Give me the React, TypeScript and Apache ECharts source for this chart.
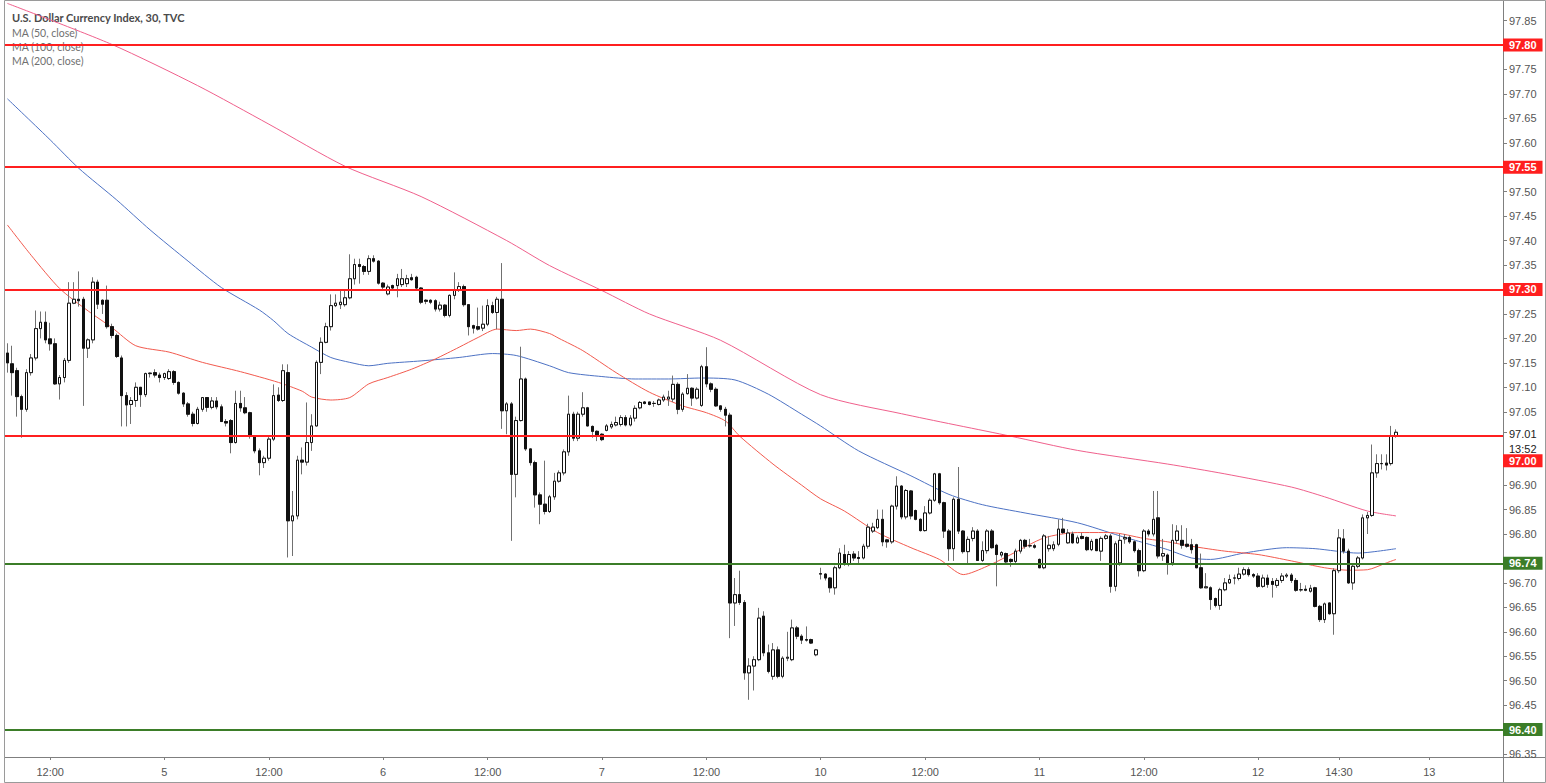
import React, { useEffect, useRef } from "react";
import * as echarts from "echarts";

// [open, close, low, high] per 30-minute bar
const candles: [number, number, number, number][] = [
  [97.17, 97.15, 97.13, 97.19], [97.148, 97.13, 97.083, 97.185], [97.134, 97.081, 97.04, 97.14], [97.081, 97.055, 96.997, 97.085],
  [97.055, 97.13, 97.05, 97.137], [97.13, 97.16, 97.124, 97.168], [97.16, 97.22, 97.155, 97.257], [97.22, 97.233, 97.2, 97.255],
  [97.233, 97.197, 97.19, 97.255], [97.199, 97.189, 97.175, 97.232], [97.189, 97.107, 97.105, 97.2], [97.107, 97.12, 97.075, 97.125],
  [97.12, 97.155, 97.11, 97.16], [97.155, 97.272, 97.15, 97.315], [97.272, 97.28, 97.27, 97.315], [97.28, 97.277, 97.265, 97.337],
  [97.28, 97.18, 97.062, 97.285], [97.18, 97.197, 97.16, 97.2], [97.197, 97.315, 97.19, 97.325], [97.315, 97.27, 97.26, 97.32],
  [97.278, 97.27, 97.25, 97.28], [97.278, 97.224, 97.22, 97.308], [97.224, 97.206, 97.2, 97.23], [97.206, 97.163, 97.16, 97.21],
  [97.16, 97.083, 97.02, 97.165], [97.083, 97.064, 97.02, 97.09], [97.065, 97.073, 97.025, 97.08], [97.073, 97.1, 97.06, 97.11],
  [97.1, 97.085, 97.06, 97.1], [97.085, 97.128, 97.08, 97.13], [97.128, 97.129, 97.12, 97.13], [97.13, 97.125, 97.12, 97.137],
  [97.125, 97.12, 97.11, 97.13], [97.12, 97.128, 97.115, 97.13], [97.118, 97.132, 97.115, 97.137], [97.132, 97.11, 97.105, 97.135],
  [97.11, 97.088, 97.085, 97.112], [97.088, 97.066, 97.06, 97.09], [97.066, 97.045, 97.04, 97.07], [97.045, 97.026, 97.02, 97.05],
  [97.026, 97.055, 97.024, 97.06], [97.055, 97.079, 97.05, 97.08], [97.079, 97.059, 97.05, 97.08], [97.059, 97.072, 97.055, 97.08],
  [97.072, 97.06, 97.055, 97.08], [97.06, 97.03, 97.03, 97.065], [97.03, 97.027, 97.02, 97.035], [97.032, 96.987, 96.965, 97.035],
  [96.987, 97.067, 96.985, 97.093], [97.067, 97.058, 97.05, 97.093], [97.058, 97.048, 97.045, 97.08], [97.048, 97.0, 96.995, 97.05],
  [97.0, 96.97, 96.965, 97.0], [96.97, 96.946, 96.92, 96.975], [96.946, 96.955, 96.935, 96.96], [96.955, 96.994, 96.95, 97.0],
  [96.994, 97.083, 96.99, 97.106], [97.084, 97.073, 97.07, 97.1], [97.073, 97.134, 97.07, 97.147], [97.13, 96.827, 96.752, 97.147],
  [96.827, 96.837, 96.755, 96.888], [96.837, 96.951, 96.83, 96.96], [96.951, 96.947, 96.922, 96.977], [96.947, 96.987, 96.94, 97.069],
  [96.987, 97.021, 96.97, 97.045], [97.021, 97.151, 97.02, 97.155], [97.151, 97.192, 97.127, 97.202], [97.192, 97.224, 97.19, 97.232],
  [97.224, 97.267, 97.216, 97.29], [97.267, 97.272, 97.264, 97.29], [97.269, 97.274, 97.26, 97.297], [97.269, 97.283, 97.265, 97.297],
  [97.283, 97.322, 97.28, 97.372], [97.322, 97.351, 97.31, 97.363], [97.351, 97.347, 97.312, 97.363], [97.347, 97.337, 97.33, 97.35],
  [97.337, 97.363, 97.33, 97.37], [97.363, 97.358, 97.355, 97.37], [97.358, 97.313, 97.31, 97.36], [97.313, 97.305, 97.3, 97.315],
  [97.291, 97.305, 97.288, 97.31], [97.308, 97.303, 97.3, 97.31], [97.308, 97.322, 97.284, 97.332], [97.31, 97.322, 97.305, 97.342],
  [97.312, 97.322, 97.305, 97.33], [97.324, 97.32, 97.318, 97.332], [97.325, 97.303, 97.3, 97.328], [97.303, 97.274, 97.27, 97.305],
  [97.278, 97.276, 97.27, 97.28], [97.278, 97.274, 97.27, 97.28], [97.277, 97.26, 97.255, 97.28], [97.26, 97.268, 97.255, 97.275],
  [97.268, 97.247, 97.243, 97.27], [97.247, 97.288, 97.243, 97.29], [97.288, 97.298, 97.28, 97.335], [97.298, 97.306, 97.295, 97.315],
  [97.306, 97.269, 97.265, 97.31], [97.269, 97.224, 97.206, 97.27], [97.226, 97.221, 97.21, 97.228], [97.224, 97.219, 97.216, 97.263],
  [97.221, 97.229, 97.215, 97.267], [97.229, 97.267, 97.225, 97.28], [97.267, 97.253, 97.25, 97.275], [97.253, 97.28, 97.219, 97.285],
  [97.28, 97.052, 97.015, 97.354], [97.052, 97.066, 97.004, 97.07], [97.066, 96.922, 96.786, 97.07], [96.922, 97.032, 96.875, 97.04],
  [97.032, 97.117, 97.03, 97.183], [97.117, 96.974, 96.97, 97.12], [96.974, 96.946, 96.94, 96.975], [96.946, 96.88, 96.854, 96.95],
  [96.88, 96.861, 96.82, 96.885], [96.861, 96.846, 96.84, 96.95], [96.846, 96.876, 96.843, 96.88], [96.876, 96.908, 96.87, 96.925],
  [96.908, 96.925, 96.905, 96.93], [96.925, 96.968, 96.92, 96.973], [96.968, 97.045, 96.96, 97.083], [97.045, 96.996, 96.99, 97.05],
  [96.996, 97.045, 96.99, 97.05], [97.045, 97.058, 97.04, 97.09], [97.058, 97.021, 97.02, 97.06], [97.02, 97.01, 96.997, 97.022],
  [97.01, 97.0, 96.99, 97.012], [97.004, 96.993, 96.99, 97.006], [97.012, 97.021, 97.01, 97.025], [97.019, 97.024, 97.015, 97.03],
  [97.023, 97.028, 97.02, 97.04], [97.024, 97.038, 97.02, 97.043], [97.038, 97.023, 97.02, 97.043], [97.023, 97.037, 97.02, 97.043],
  [97.037, 97.057, 97.03, 97.063], [97.058, 97.069, 97.055, 97.072], [97.07, 97.067, 97.065, 97.072], [97.07, 97.065, 97.063, 97.07],
  [97.067, 97.067, 97.06, 97.072], [97.065, 97.074, 97.063, 97.077], [97.074, 97.08, 97.07, 97.085], [97.076, 97.08, 97.062, 97.093],
  [97.076, 97.106, 97.07, 97.124], [97.106, 97.055, 97.045, 97.11], [97.055, 97.086, 97.05, 97.09], [97.087, 97.098, 97.085, 97.127],
  [97.098, 97.078, 97.062, 97.1], [97.078, 97.096, 97.075, 97.1], [97.063, 97.142, 97.06, 97.146], [97.142, 97.107, 97.1, 97.182],
  [97.107, 97.096, 97.09, 97.11], [97.096, 97.062, 97.06, 97.1], [97.062, 97.055, 97.05, 97.063], [97.055, 97.043, 97.02, 97.06],
  [97.043, 96.659, 96.587, 97.048], [96.659, 96.676, 96.612, 96.71], [96.676, 96.66, 96.655, 96.725], [96.66, 96.516, 96.502, 96.665],
  [96.516, 96.53, 96.461, 96.546], [96.53, 96.543, 96.48, 96.55], [96.543, 96.628, 96.54, 96.649], [96.632, 96.557, 96.55, 96.642],
  [96.557, 96.519, 96.515, 96.574], [96.509, 96.563, 96.502, 96.577], [96.563, 96.509, 96.505, 96.57], [96.509, 96.546, 96.505, 96.55],
  [96.546, 96.548, 96.54, 96.6], [96.543, 96.608, 96.54, 96.625], [96.608, 96.591, 96.585, 96.612], [96.591, 96.583, 96.575, 96.595],
  [96.584, 96.583, 96.58, 96.611], [96.584, 96.577, 96.575, 96.586], [96.553, 96.563, 96.55, 96.565], [96.718, 96.719, 96.707, 96.731],
  [96.718, 96.71, 96.705, 96.72], [96.71, 96.69, 96.68, 96.712], [96.69, 96.731, 96.676, 96.735], [96.731, 96.761, 96.728, 96.771],
  [96.758, 96.739, 96.735, 96.778], [96.739, 96.758, 96.734, 96.765], [96.759, 96.751, 96.745, 96.765], [96.752, 96.75, 96.738, 96.765],
  [96.751, 96.775, 96.748, 96.78], [96.775, 96.814, 96.77, 96.821], [96.806, 96.814, 96.802, 96.823], [96.813, 96.83, 96.81, 96.85],
  [96.83, 96.784, 96.775, 96.85], [96.788, 96.784, 96.772, 96.79], [96.784, 96.857, 96.78, 96.86], [96.857, 96.898, 96.85, 96.918],
  [96.898, 96.835, 96.83, 96.9], [96.835, 96.889, 96.83, 96.892], [96.888, 96.837, 96.83, 96.89], [96.848, 96.83, 96.828, 96.85],
  [96.83, 96.807, 96.805, 96.832], [96.807, 96.843, 96.805, 96.857], [96.843, 96.869, 96.84, 96.873], [96.869, 96.923, 96.866, 96.925],
  [96.923, 96.864, 96.86, 96.925], [96.864, 96.806, 96.792, 96.866], [96.806, 96.77, 96.745, 96.81], [96.77, 96.871, 96.745, 96.875],
  [96.871, 96.806, 96.8, 96.937], [96.806, 96.764, 96.76, 96.808], [96.764, 96.789, 96.74, 96.795], [96.791, 96.806, 96.785, 96.814],
  [96.806, 96.746, 96.745, 96.81], [96.746, 96.766, 96.743, 96.785], [96.766, 96.806, 96.76, 96.81], [96.806, 96.772, 96.77, 96.81],
  [96.777, 96.758, 96.693, 96.78], [96.757, 96.762, 96.752, 96.765], [96.76, 96.743, 96.74, 96.762], [96.748, 96.744, 96.733, 96.75],
  [96.744, 96.765, 96.74, 96.77], [96.765, 96.787, 96.76, 96.79], [96.787, 96.775, 96.77, 96.79], [96.776, 96.776, 96.772, 96.79],
  [96.776, 96.773, 96.77, 96.78], [96.748, 96.731, 96.73, 96.75], [96.731, 96.796, 96.728, 96.8], [96.77, 96.777, 96.764, 96.796],
  [96.77, 96.778, 96.765, 96.785], [96.779, 96.81, 96.775, 96.83], [96.81, 96.803, 96.8, 96.833], [96.782, 96.802, 96.78, 96.81],
  [96.8, 96.782, 96.78, 96.805], [96.782, 96.792, 96.78, 96.797], [96.795, 96.791, 96.789, 96.802], [96.793, 96.768, 96.765, 96.795],
  [96.768, 96.785, 96.765, 96.79], [96.789, 96.766, 96.765, 96.79], [96.765, 96.791, 96.745, 96.795], [96.791, 96.796, 96.788, 96.8],
  [96.796, 96.693, 96.68, 96.8], [96.693, 96.78, 96.683, 96.785], [96.741, 96.787, 96.735, 96.8], [96.79, 96.793, 96.78, 96.8],
  [96.793, 96.784, 96.78, 96.797], [96.784, 96.766, 96.762, 96.787], [96.766, 96.725, 96.713, 96.77], [96.725, 96.806, 96.722, 96.81],
  [96.806, 96.8, 96.795, 96.81], [96.8, 96.83, 96.795, 96.888], [96.833, 96.755, 96.75, 96.888], [96.755, 96.76, 96.745, 96.79],
  [96.757, 96.741, 96.717, 96.76], [96.741, 96.787, 96.735, 96.82], [96.787, 96.806, 96.78, 96.818], [96.787, 96.777, 96.77, 96.818],
  [96.779, 96.775, 96.772, 96.812], [96.778, 96.768, 96.76, 96.79], [96.778, 96.731, 96.73, 96.78], [96.731, 96.69, 96.688, 96.76],
  [96.69, 96.692, 96.69, 96.72], [96.69, 96.666, 96.645, 96.693], [96.668, 96.654, 96.65, 96.67], [96.654, 96.686, 96.645, 96.69],
  [96.686, 96.7, 96.683, 96.71], [96.7, 96.707, 96.698, 96.717], [96.71, 96.71, 96.697, 96.717], [96.709, 96.718, 96.705, 96.731],
  [96.718, 96.727, 96.715, 96.732], [96.727, 96.717, 96.713, 96.732], [96.717, 96.714, 96.71, 96.72], [96.714, 96.693, 96.69, 96.72],
  [96.693, 96.71, 96.69, 96.717], [96.71, 96.697, 96.69, 96.717], [96.703, 96.697, 96.67, 96.71], [96.695, 96.705, 96.69, 96.71],
  [96.705, 96.714, 96.7, 96.72], [96.714, 96.716, 96.71, 96.72], [96.716, 96.705, 96.7, 96.72], [96.705, 96.685, 96.682, 96.71],
  [96.686, 96.686, 96.682, 96.7], [96.687, 96.685, 96.683, 96.695], [96.683, 96.689, 96.68, 96.696], [96.69, 96.652, 96.65, 96.692],
  [96.652, 96.625, 96.62, 96.655], [96.625, 96.657, 96.618, 96.66], [96.659, 96.637, 96.635, 96.66], [96.637, 96.725, 96.594, 96.73],
  [96.725, 96.792, 96.72, 96.81], [96.79, 96.765, 96.76, 96.81], [96.765, 96.7, 96.698, 96.77], [96.7, 96.734, 96.686, 96.74],
  [96.734, 96.751, 96.73, 96.755], [96.751, 96.833, 96.748, 96.84], [96.833, 96.838, 96.8, 96.845], [96.838, 96.925, 96.835, 96.983],
  [96.925, 96.944, 96.915, 96.963], [96.944, 96.944, 96.932, 96.963], [96.945, 96.941, 96.93, 96.963], [96.944, 97.0, 96.94, 97.021],
  [97.0, 97.008, 96.997, 97.014],
];

// empty bar slots to the right of the last candle
const futureBars = 22;

// moving averages: [bar index, value]
const ma50: [number, number][] = [
  [0, 97.432], [5, 97.37], [11, 97.302], [17, 97.256], [22, 97.222], [27, 97.185], [34, 97.172], [41, 97.151], [49, 97.132],
  [57, 97.11], [62, 97.092], [64, 97.08], [68, 97.074], [72, 97.079], [76, 97.107], [80, 97.12], [85, 97.137],
  [90, 97.158], [95, 97.182], [99, 97.202], [103, 97.219], [107, 97.216], [110, 97.219], [114, 97.21], [116, 97.2], [121, 97.175],
  [128, 97.13], [135, 97.09], [142, 97.062], [147, 97.048], [151, 97.031], [154, 97.0], [161, 96.943], [167, 96.9], [171, 96.872],
  [176, 96.847], [183, 96.803], [190, 96.772], [196, 96.748], [201, 96.717], [206, 96.734], [211, 96.758], [218, 96.792],
  [225, 96.803], [232, 96.803], [239, 96.791], [244, 96.784], [249, 96.775], [256, 96.765], [263, 96.758], [270, 96.745],
  [277, 96.731], [282, 96.726], [286, 96.727], [290, 96.741], [292, 96.748],
];
const ma100: [number, number][] = [
  [0, 97.69], [9, 97.606], [15, 97.548], [23, 97.483], [30, 97.422], [38, 97.358], [45, 97.304], [53, 97.258], [56, 97.236],
  [59, 97.21], [64, 97.182], [68, 97.161], [72, 97.151], [76, 97.144], [80, 97.149], [87, 97.154], [95, 97.161], [102, 97.169],
  [107, 97.165], [114, 97.144], [118, 97.13], [125, 97.122], [132, 97.117], [139, 97.117], [146, 97.119], [153, 97.115],
  [160, 97.086], [167, 97.045], [171, 97.021], [179, 96.97], [190, 96.919], [198, 96.881], [205, 96.86], [214, 96.843],
  [225, 96.823], [234, 96.796], [239, 96.782], [244, 96.768], [249, 96.751], [253, 96.748], [260, 96.761], [269, 96.772],
  [275, 96.77], [284, 96.761], [292, 96.77],
];
const ma200: [number, number][] = [
  [0, 97.885], [22, 97.801], [40, 97.717], [55, 97.638], [71, 97.552], [87, 97.49], [105, 97.4], [114, 97.349], [125, 97.298],
  [135, 97.25], [150, 97.196], [171, 97.085], [188, 97.046], [211, 97.0], [225, 96.971], [244, 96.943], [256, 96.923],
  [270, 96.896], [277, 96.876], [286, 96.847], [292, 96.837],
];

// time-axis labels: [bar index, label]
const xTickLabels: [number, string][] = [
  [9, "12:00"], [33, "5"], [55, "12:00"], [79, "6"], [101, "12:00"], [125, "7"], [147, "12:00"],
  [171, "10"], [193, "12:00"], [217, "11"], [239, "12:00"], [263, "12"], [280, "14:30"], [299, "13"],
];

// price-axis tick labels
const yTickLabels = [
  97.85, 97.75, 97.7, 97.65, 97.6, 97.5, 97.45, 97.4, 97.35, 97.25, 97.2, 97.15, 97.1, 97.05,
  96.9, 96.85, 96.8, 96.7, 96.65, 96.6, 96.55, 96.5, 96.45, 96.35,
];

const resistanceLevels = [97.8, 97.55, 97.3, 97.0];
const supportLevels = [96.743, 96.4];
const supportLabels = ["96.74", "96.40"];
const lastPrice = "97.01";
const countdown = "13:52";

const yMin = 96.344;
const yMax = 97.892;

const RED = "#ff1f1f";
const GREEN = "#3b7d28";

export default function App() {
  const ref = useRef<HTMLDivElement>(null);

  useEffect(() => {
    document.body.style.margin = "0";
    if (!ref.current) return;
    const chart = echarts.init(ref.current, null, { renderer: "svg" });

    const total = candles.length + futureBars;
    const categories = Array.from({ length: total }, (_, i) => String(i));
    const tickMap: Record<number, string> = {};
    xTickLabels.forEach(([i, t]) => (tickMap[i] = t));
    const showTick = (i: number) => tickMap[i] !== undefined;

    const bodies = candles.map(([o, c]) => [o, c, Math.min(o, c), Math.max(o, c)]);

    const boxLabel = (text: string, bg: string) => ({
      show: true,
      position: "end",
      distance: 0,
      formatter: text,
      color: "#fff",
      backgroundColor: bg,
      fontFamily: "Liberation Sans",
      fontSize: 11,
      fontWeight: "bold",
      lineHeight: 12,
      padding: [1, 6, 0, 6],
    });

    const hidden = { color: "rgba(255,255,255,0)", width: 1, type: "solid" };

    const markData: any[] = [];
    resistanceLevels.forEach((v) => {
      markData.push({
        yAxis: v,
        lineStyle: { color: RED, width: 2, type: "solid" },
        label: v === 97.0 ? { show: false } : boxLabel(v.toFixed(2), RED),
      });
    });
    supportLevels.forEach((v, i) => {
      markData.push({
        yAxis: v,
        lineStyle: { color: GREEN, width: 2, type: "solid" },
        label: boxLabel(supportLabels[i], GREEN),
      });
    });
    // displaced 97.00 price box (moved below the last-price label)
    markData.push({
      yAxis: 96.949,
      lineStyle: hidden,
      label: boxLabel("97.00", RED),
    });
    // last price + countdown
    markData.push({
      yAxis: 96.994,
      lineStyle: hidden,
      label: {
        show: true,
        position: "end",
        distance: 6,
        formatter: lastPrice + "\n" + countdown,
        color: "#222",
        fontFamily: "Liberation Sans",
        fontSize: 11,
        lineHeight: 15,
      },
    });

    const option: any = {
      animation: false,
      backgroundColor: "#ffffff",
      grid: { left: 5, right: 43, top: 0, bottom: 26, containLabel: false, outerBoundsMode: "none" },
      xAxis: {
        type: "category",
        data: categories,
        boundaryGap: true,
        axisLine: { show: true, lineStyle: { color: "#7f7f7f", width: 1 } },
        axisTick: {
          show: true,
          alignWithLabel: true,
          interval: showTick,
          length: 3,
          lineStyle: { color: "#7f7f7f" },
        },
        axisLabel: {
          show: true,
          interval: showTick,
          formatter: (_v: string, i: number) => tickMap[i] ?? "",
          color: "#555",
          fontFamily: "Liberation Sans",
          fontSize: 11,
          margin: 9,
        },
        splitLine: { show: false },
      },
      yAxis: {
        type: "value",
        position: "right",
        min: yMin,
        max: yMax,
        axisLine: { show: true, lineStyle: { color: "#7f7f7f", width: 1 } },
        axisTick: {
          show: true,
          length: 4,
          lineStyle: { color: "#7f7f7f" },
          customValues: [...yTickLabels, 97.008],
        },
        axisLabel: {
          show: true,
          customValues: yTickLabels,
          formatter: (v: number) => v.toFixed(2),
          color: "#555",
          fontFamily: "Liberation Sans",
          fontSize: 11,
          margin: 6,
        },
        splitLine: { show: false },
      },
      series: [
        {
          name: "MA (200, close)",
          type: "line",
          data: ma200,
          symbol: "none",
          smooth: 0.25,
          lineStyle: { color: "#f0608c", width: 1 },
          z: 1,
          silent: true,
        },
        {
          name: "MA (100, close)",
          type: "line",
          data: ma100,
          symbol: "none",
          smooth: 0.25,
          lineStyle: { color: "#4d72c4", width: 1 },
          z: 1,
          silent: true,
        },
        {
          name: "MA (50, close)",
          type: "line",
          data: ma50,
          symbol: "none",
          smooth: 0.25,
          lineStyle: { color: "#f25a4e", width: 1 },
          z: 1,
          silent: true,
        },
        {
          name: "wicks",
          type: "candlestick",
          data: candles,
          barWidth: 3,
          itemStyle: {
            color: "#ffffff",
            color0: "#111111",
            borderColor: "#707070",
            borderColor0: "#707070",
            borderWidth: 1,
          },
          z: 2,
          silent: true,
        },
        {
          name: "U.S. Dollar Currency Index",
          type: "candlestick",
          data: bodies,
          barWidth: 3,
          itemStyle: {
            color: "#ffffff",
            color0: "#111111",
            borderColor: "#111111",
            borderColor0: "#111111",
            borderWidth: 1,
          },
          z: 3,
          silent: true,
        },
        {
          name: "levels",
          type: "line",
          data: [],
          z: 5,
          silent: true,
          markLine: {
            silent: true,
            symbol: ["none", "none"],
            animation: false,
            data: markData,
          },
        },
      ],
      graphic: [
        {
          type: "text",
          x: 12,
          y: 17.5,
          silent: true,
          style: {
            text: "U.S. Dollar Currency Index, 30, TVC",
            fill: "#4a4a4a",
            font: "bold 11px Lato",
            verticalAlign: "middle",
          },
        },
        {
          type: "text",
          x: 12,
          y: 32.5,
          silent: true,
          style: { text: "MA (50, close)", fill: "#707070", font: "10.5px Lato", verticalAlign: "middle" },
        },
        {
          type: "text",
          x: 12,
          y: 46.5,
          silent: true,
          style: { text: "MA (100, close)", fill: "#707070", font: "10.5px Lato", verticalAlign: "middle" },
        },
        {
          type: "text",
          x: 12,
          y: 60.5,
          silent: true,
          style: { text: "MA (200, close)", fill: "#707070", font: "10.5px Lato", verticalAlign: "middle" },
        },
        {
          type: "line",
          silent: true,
          shape: { x1: 1503.5, y1: 757, x2: 1503.5, y2: 783 },
          style: { stroke: "#7f7f7f", lineWidth: 1 },
        },
        {
          type: "line",
          silent: true,
          shape: { x1: 1503, y1: 757.5, x2: 1546, y2: 757.5 },
          style: { stroke: "#7f7f7f", lineWidth: 1 },
        },
        {
          type: "rect",
          silent: true,
          z: 100,
          shape: { x: 4.5, y: 0.5, width: 1541, height: 782 },
          style: { fill: "none", stroke: "#9a9a9a", lineWidth: 1 },
        },
      ],
    };

    chart.setOption(option);
    return () => chart.dispose();
  }, []);

  return <div ref={ref} style={{ width: 1546, height: 783 }} />;
}
